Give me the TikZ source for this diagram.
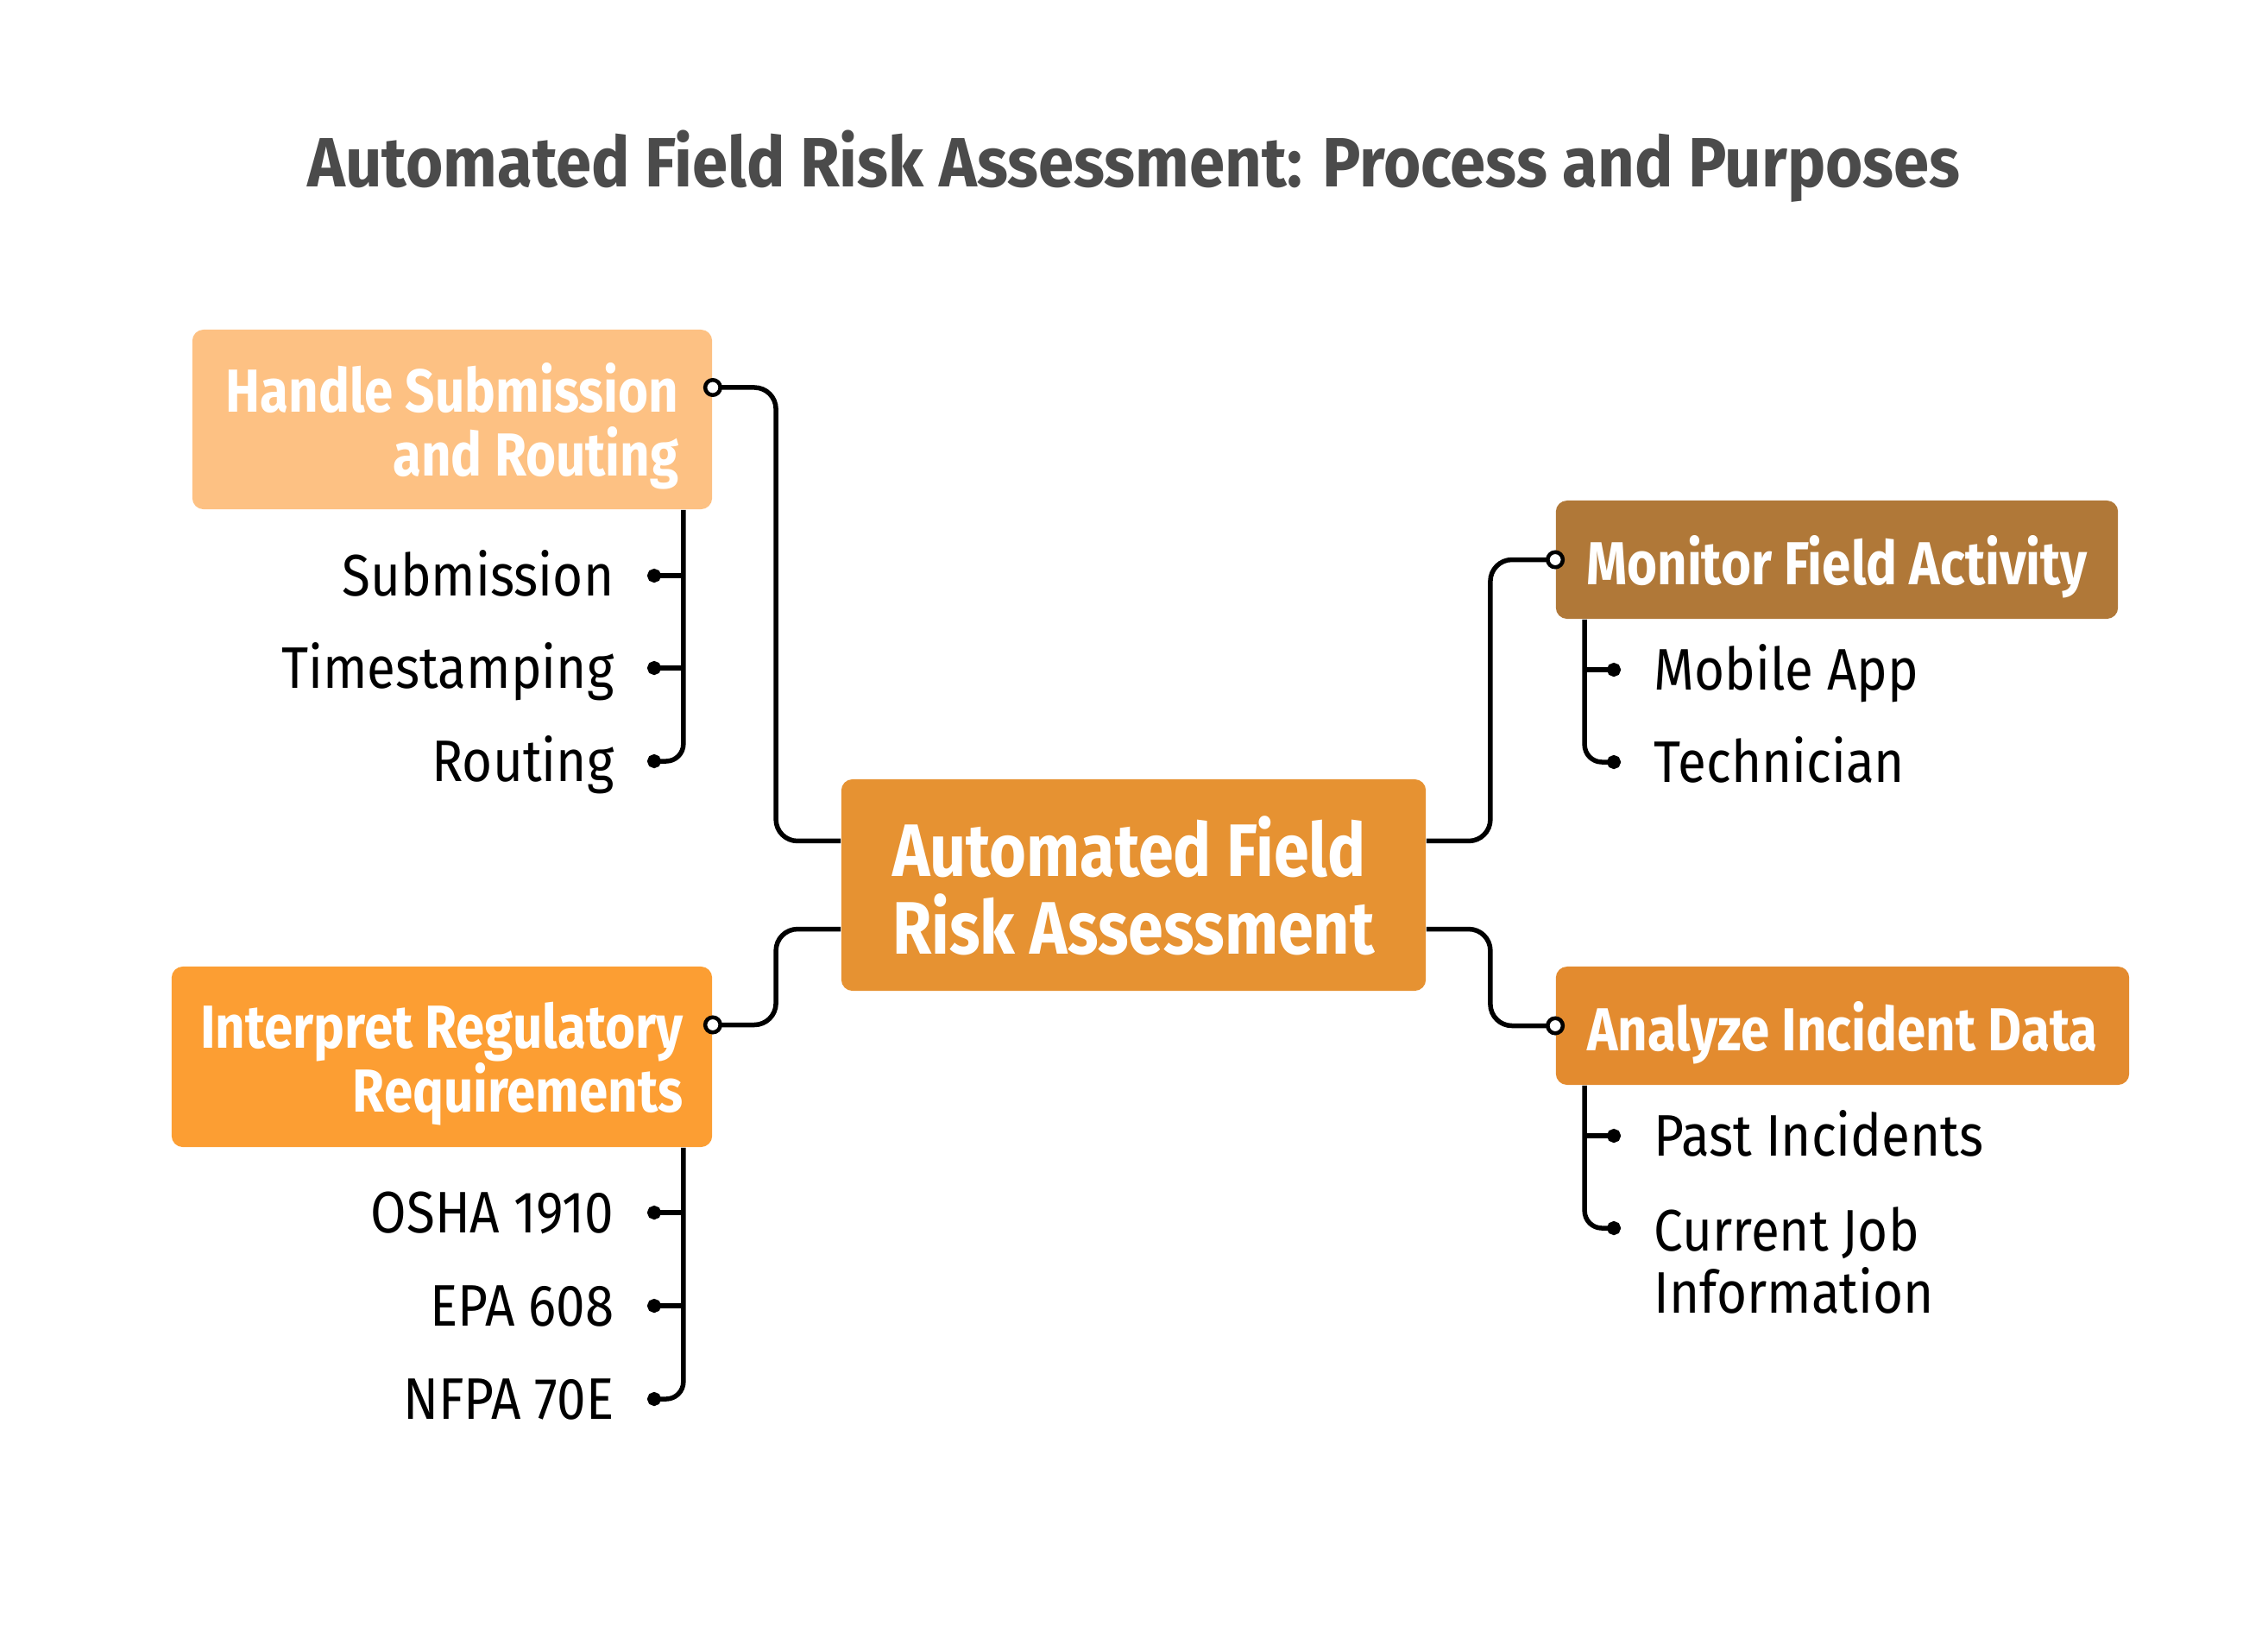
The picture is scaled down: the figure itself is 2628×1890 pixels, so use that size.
\documentclass[tikz,border=0pt]{standalone}
\usepackage{fontspec}
\setmainfont{Fira Sans}[FakeStretch=0.886,BoldFeatures={FakeStretch=0.854}]
\newfontfamily\titlefont{Fira Sans}[BoldFeatures={FakeStretch=0.918}]
\usetikzlibrary{arrows.meta}
\definecolor{peach}{HTML}{FDC183}
\definecolor{amber}{HTML}{FC9E33}
\definecolor{ochre}{HTML}{E69232}
\definecolor{bronze}{HTML}{B07838}
\definecolor{tangerine}{HTML}{E38B2F}
\definecolor{titlegray}{HTML}{4B4B4B}
\begin{document}
\begin{tikzpicture}[x=0.01cm,y=-0.01cm,
 box/.style={rounded corners=0.13cm,text=white,inner sep=0pt,text depth=0pt,font=\fontsize{20}{21}\selectfont\bfseries},
 core/.style={box,font=\fontsize{24.5}{25.5}\selectfont\bfseries,align=left},
 item/.style={inner xsep=0.38cm,inner ysep=0pt,font=\fontsize{19.3}{20.5}\selectfont},
 one/.style={item,text height=0.47cm,text depth=0pt},
 link/.style={line width=0.055cm,rounded corners=0.25cm},
 hub/.style={link,-{Circle[fill=white,line width=0.045cm,length=0.22cm]},shorten >=-0.11cm},
 twig/.style={link,rounded corners=0.2cm,-{Circle[length=0.16cm]}}
]
 \useasboundingbox (0,0) rectangle (2628,1890);
 \node[font=\titlefont\fontsize{23}{27}\selectfont\bfseries,text=titlegray] (title) at (1314,193) {Automated Field Risk Assessment: Process and Purposes};

 \node[core,fill=ochre,minimum width=6.77cm,minimum height=2.45cm] (ctr) at (1313.5,1025.5) {Automated Field\\Risk Assessment};
 \node[box,fill=peach,minimum width=6.02cm,minimum height=2.08cm,align=right] (hsr) at (524,486) {Handle Submission\\and Routing};
 \node[box,fill=amber,minimum width=6.26cm,minimum height=2.09cm,align=right] (irr) at (512,1224.5) {Interpret Regulatory\\Requirements};
 \node[box,fill=bronze,minimum width=6.51cm,minimum height=1.37cm] (mfa) at (2128.5,648.5) {Monitor Field Activity};
 \node[box,fill=tangerine,minimum width=6.64cm,minimum height=1.37cm] (aid) at (2135,1188.5) {Analyze Incident Data};

 \draw[hub] ([yshift=0.51cm]ctr.west) -- ++(-75,0) |- ([yshift=0.37cm]hsr.east);
 \draw[hub] ([yshift=-0.51cm]ctr.west) -- ++(-75,0) |- ([yshift=0.37cm]irr.east);
 \draw[hub] ([yshift=0.51cm]ctr.east) -- ++(74,0) |- (mfa.west);
 \draw[hub] ([yshift=-0.51cm]ctr.east) -- ++(74,0) |- (aid.west);

 % left branches
 \coordinate (t1) at ([xshift=-0.34cm]hsr.south east);
 \node[one,anchor=east] (sub) at (750,667) {Submission};
 \node[one,anchor=east] (tim) at (750,774) {Timestamping};
 \node[one,anchor=east] (rou) at (750,882) {Routing};
 \draw[twig] (t1) |- (rou.east);
 \draw[twig] (t1 |- sub.east) -- (sub.east);
 \draw[twig] (t1 |- tim.east) -- (tim.east);

 \coordinate (t2) at ([xshift=-0.34cm]irr.south east);
 \node[one,anchor=east] (osha) at (750,1405) {OSHA 1910};
 \node[one,anchor=east] (epa) at (750,1513) {EPA 608};
 \node[one,anchor=east] (nfpa) at (750,1621) {NFPA 70E};
 \draw[twig] (t2) |- (nfpa.east);
 \draw[twig] (t2 |- osha.east) -- (osha.east);
 \draw[twig] (t2 |- epa.east) -- (epa.east);

 % right branches
 \coordinate (t3) at ([xshift=0.34cm]mfa.south west);
 \node[one,anchor=west] (app) at (1878,776) {Mobile App};
 \node[one,anchor=west] (tech) at (1878,883) {Technician};
 \draw[twig] (t3) |- (tech.west);
 \draw[twig] (t3 |- app.west) -- (app.west);

 \coordinate (t4) at ([xshift=0.34cm]aid.south west);
 \node[one,anchor=west] (past) at (1878,1316) {Past Incidents};
 \node[item,anchor=north west,align=left] (cij) at (1878,1398) {Current Job\\Information};
 \draw[twig] (t4) |- ([yshift=-0.25cm]cij.north west);
 \draw[twig] (t4 |- past.west) -- (past.west);
\end{tikzpicture}
\end{document}
